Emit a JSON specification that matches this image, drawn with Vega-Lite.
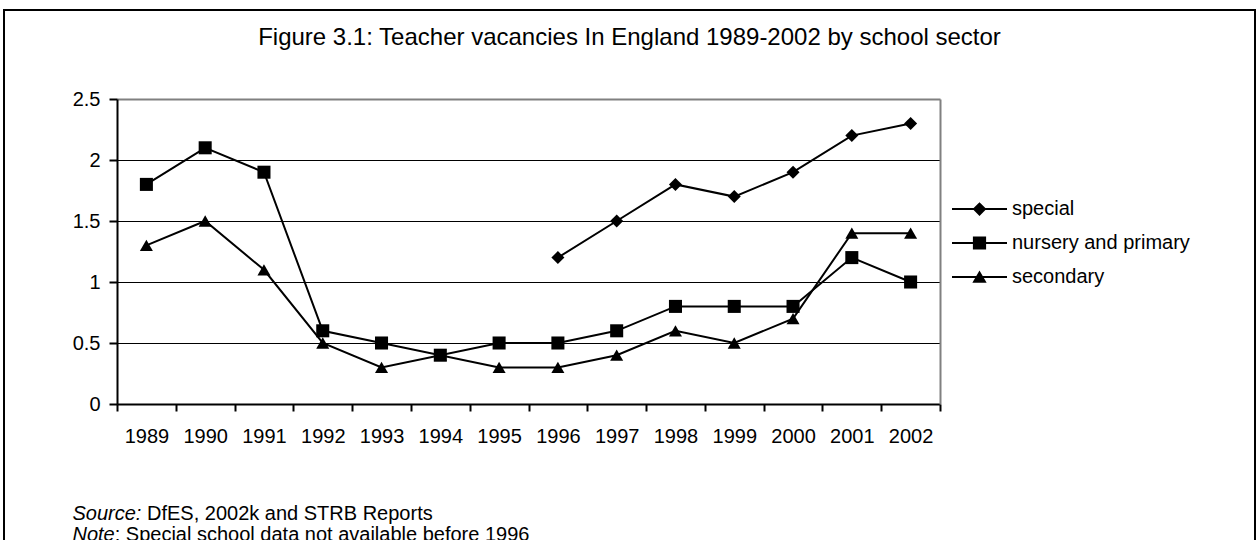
{
  "$schema": "https://vega.github.io/schema/vega-lite/v6.json",
  "width": 1251,
  "height": 530,
  "autosize": {"type": "none"},
  "padding": {"left": 4, "top": 10, "right": 3, "bottom": 0},
  "background": "white",
  "title": {
    "text": "Figure 3.1: Teacher vacancies In England 1989-2002 by school sector",
    "font": "Liberation Sans",
    "fontSize": 24,
    "fontWeight": "normal",
    "color": "black",
    "anchor": "middle",
    "frame": "group",
    "baseline": "top",
    "offset": -40
  },
  "config": {
    "view": {"stroke": "black", "strokeWidth": 2, "strokeDash": [1781, 1251, 530], "fill": "white"},
    "font": "Liberation Sans"
  },
  "data": {
    "values": [
      {"year": 1996, "sector": "special", "value": 1.2},
      {"year": 1997, "sector": "special", "value": 1.5},
      {"year": 1998, "sector": "special", "value": 1.8},
      {"year": 1999, "sector": "special", "value": 1.7},
      {"year": 2000, "sector": "special", "value": 1.9},
      {"year": 2001, "sector": "special", "value": 2.2},
      {"year": 2002, "sector": "special", "value": 2.3},
      {"year": 1989, "sector": "nursery and primary", "value": 1.8},
      {"year": 1990, "sector": "nursery and primary", "value": 2.1},
      {"year": 1991, "sector": "nursery and primary", "value": 1.9},
      {"year": 1992, "sector": "nursery and primary", "value": 0.6},
      {"year": 1993, "sector": "nursery and primary", "value": 0.5},
      {"year": 1994, "sector": "nursery and primary", "value": 0.4},
      {"year": 1995, "sector": "nursery and primary", "value": 0.5},
      {"year": 1996, "sector": "nursery and primary", "value": 0.5},
      {"year": 1997, "sector": "nursery and primary", "value": 0.6},
      {"year": 1998, "sector": "nursery and primary", "value": 0.8},
      {"year": 1999, "sector": "nursery and primary", "value": 0.8},
      {"year": 2000, "sector": "nursery and primary", "value": 0.8},
      {"year": 2001, "sector": "nursery and primary", "value": 1.2},
      {"year": 2002, "sector": "nursery and primary", "value": 1.0},
      {"year": 1989, "sector": "secondary", "value": 1.3},
      {"year": 1990, "sector": "secondary", "value": 1.5},
      {"year": 1991, "sector": "secondary", "value": 1.1},
      {"year": 1992, "sector": "secondary", "value": 0.5},
      {"year": 1993, "sector": "secondary", "value": 0.3},
      {"year": 1994, "sector": "secondary", "value": 0.4},
      {"year": 1995, "sector": "secondary", "value": 0.3},
      {"year": 1996, "sector": "secondary", "value": 0.3},
      {"year": 1997, "sector": "secondary", "value": 0.4},
      {"year": 1998, "sector": "secondary", "value": 0.6},
      {"year": 1999, "sector": "secondary", "value": 0.5},
      {"year": 2000, "sector": "secondary", "value": 0.7},
      {"year": 2001, "sector": "secondary", "value": 1.4},
      {"year": 2002, "sector": "secondary", "value": 1.4}
    ]
  },
  "encoding": {
    "x": {
      "field": "year",
      "type": "quantitative",
      "scale": {"domain": [1988.5, 2002.5], "range": [113, 936], "nice": false, "zero": false},
      "axis": {
        "values": [1988.5, 1989.5, 1990.5, 1991.5, 1992.5, 1993.5, 1994.5, 1995.5, 1996.5, 1997.5, 1998.5, 1999.5, 2000.5, 2001.5, 2002.5],
        "offset": -136,
        "domainColor": "black",
        "domainWidth": 2,
        "tickColor": "black",
        "tickWidth": 2,
        "tickSize": 7,
        "labelPadding": 15,
        "labelExpr": "datum.value < 2002 ? '' + (datum.value + 0.5) : ''",
        "labelOffset": 29.4,
        "labelFlush": false,
        "labelOverlap": false,
        "labelFont": "Liberation Sans",
        "labelFontSize": 20,
        "labelColor": "black",
        "grid": false,
        "title": "DfES, 2002k and STRB Reports",
        "titleFont": "Liberation Sans",
        "titleFontSize": 20,
        "titleFontWeight": "normal",
        "titleColor": "black",
        "titleAlign": "left",
        "titleAnchor": "start",
        "titleBaseline": "alphabetic",
        "titleX": 142.5,
        "titleY": 115
      }
    }
  },
  "layer": [
    {
      "mark": {"type": "line", "color": "black", "strokeWidth": 2},
      "encoding": {
        "y": {
          "field": "value",
          "type": "quantitative",
          "scale": {"domain": [0, 2.5], "range": [394, 89], "nice": false, "zero": true},
          "axis": {
            "values": [0, 0.5, 1, 1.5, 2, 2.5],
            "orient": "left",
            "offset": -113,
            "domainColor": "black",
            "domainWidth": 2,
            "tickColor": "black",
            "tickWidth": 2,
            "tickSize": 8,
            "labelPadding": 9,
            "labelExpr": "'' + datum.value",
            "labelFont": "Liberation Sans",
            "labelFontSize": 20,
            "labelColor": "black",
            "grid": true,
            "gridColor": {"condition": {"test": "datum.value > 2.4", "value": "#808080"}, "value": "black"},
            "gridWidth": {"condition": {"test": "datum.value > 2.4", "value": 2}, "value": 1},
            "title": ["Source:", "Note"],
            "titleFont": "Liberation Sans",
            "titleFontSize": 20,
            "titleFontStyle": "italic",
            "titleFontWeight": "normal",
            "titleColor": "black",
            "titleAngle": 0,
            "titleAlign": "left",
            "titleBaseline": "alphabetic",
            "titleLineHeight": 21,
            "titleX": -45,
            "titleY": 509
          }
        },
        "detail": {"field": "sector", "type": "nominal"}
      }
    },
    {
      "mark": {"type": "point", "filled": true, "color": "black", "opacity": 1, "size": 170},
      "encoding": {
        "y": {
          "field": "value",
          "type": "quantitative",
          "scale": {"domain": [0, 2.5], "range": [394, 89], "nice": false, "zero": true},
          "axis": {
            "orient": "right",
            "offset": -315,
            "domainColor": "#808080",
            "domainWidth": 2,
            "ticks": false,
            "labels": false,
            "grid": false,
            "title": ": Special school data not available before 1996",
            "titleFont": "Liberation Sans",
            "titleFontSize": 20,
            "titleFontWeight": "normal",
            "titleColor": "black",
            "titleAngle": 0,
            "titleAlign": "left",
            "titleBaseline": "alphabetic",
            "titleX": -825.8,
            "titleY": 530
          }
        },
        "shape": {
          "field": "sector",
          "type": "nominal",
          "scale": {"domain": ["special", "nursery and primary", "secondary"], "range": ["diamond", "square", "triangle-up"]},
          "legend": null
        }
      }
    },
    {
      "transform": [{"filter": "false"}],
      "mark": {"type": "point", "filled": true, "color": "black", "opacity": 1, "size": 121},
      "encoding": {
        "shape": {
          "field": "sector",
          "type": "nominal",
          "scale": {
            "domain": ["special", "nursery and primary", "secondary"],
            "range": [
              "M-5,-0.18L5,-0.18L5,0.18L-5,0.18Z M0,-1.25L1.25,0L0,1.25L-1.25,0Z",
              "M-5,-0.18L5,-0.18L5,0.18L-5,0.18Z M-1.2,-1.2L1.2,-1.2L1.2,1.2L-1.2,1.2Z",
              "M-5,-0.18L5,-0.18L5,0.18L-5,0.18Z M0,-1.2L1.3,1.05L-1.3,1.05Z"
            ]
          },
          "legend": {
            "orient": "none",
            "legendX": 965.5,
            "legendY": 189,
            "title": null,
            "padding": 0,
            "symbolSize": 121,
            "symbolFillColor": "black",
            "symbolOpacity": 1,
            "labelOffset": 22.5,
            "rowPadding": 14,
            "labelFont": "Liberation Sans",
            "labelFontSize": 20,
            "labelColor": "black",
            "labelLimit": 400
          }
        }
      }
    }
  ],
  "resolve": {"scale": {"y": "independent", "shape": "independent"}, "axis": {"y": "independent"}, "legend": {"shape": "independent"}}
}
